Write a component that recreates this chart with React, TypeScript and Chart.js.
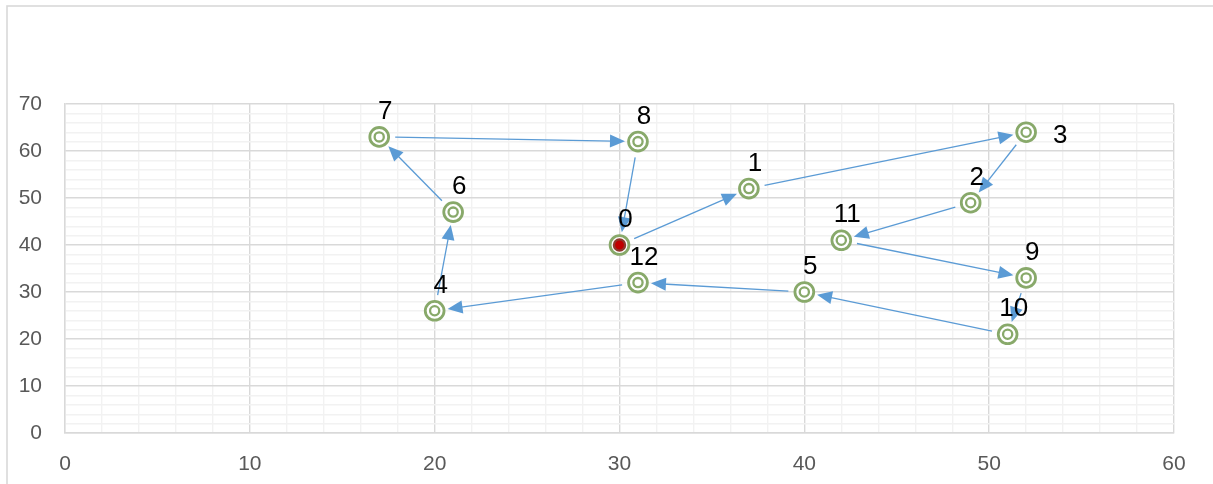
import { useEffect, useRef } from 'react';
import { Chart, registerables } from 'chart.js';

Chart.register(...registerables);

// ---- data ----
const pointLabels = ['0', '1', '2', '3', '4', '5', '6', '7', '8', '9', '10', '11', '12'];
const xValues = [30, 37, 49, 52, 20, 40, 21, 17, 31, 52, 51, 42, 31];
const yValues = [40, 52, 49, 64, 26, 30, 47, 63, 62, 33, 21, 41, 32];
// visiting order of the tour (indices into the point arrays)
const route = [0, 1, 3, 2, 11, 9, 10, 5, 12, 4, 6, 7, 8, 0];
// where each data label sits relative to its point
const labelPlacement = ['above', 'above', 'above', 'right', 'above', 'above', 'above', 'above', 'above', 'above', 'above', 'above', 'above'];
const xRange = [0, 60];
const yRange = [0, 70];
const majorStep = 10;
const minorStep = 2;

const GREEN = '#88A96A';
const ARROW = '#5B9BD5';
const FONT = '"Liberation Sans", Arial, sans-serif';

const framePlugin = {
  id: 'frame',
  beforeDraw(chart: any) {
    const { ctx, width, height } = chart;
    ctx.save();
    ctx.fillStyle = '#FFFFFF';
    ctx.fillRect(0, 0, width, height);
    ctx.strokeStyle = '#D9D9D9';
    ctx.lineWidth = 1.6;
    ctx.strokeRect(7, 6, width + 50, height + 50);
    ctx.restore();
  },
};

const arrowPlugin = {
  id: 'arrows',
  afterDatasetsDraw(chart: any) {
    const { ctx } = chart;
    const xs = chart.scales.x;
    const ys = chart.scales.y;
    const gap = 16;
    const headLen = 15;
    const headHalf = 6.5;
    ctx.save();
    ctx.strokeStyle = ARROW;
    ctx.fillStyle = ARROW;
    ctx.lineWidth = 1.3;
    for (let k = 0; k < route.length - 1; k++) {
      const a = route[k];
      const b = route[k + 1];
      const ax = xs.getPixelForValue(xValues[a]);
      const ay = ys.getPixelForValue(yValues[a]);
      const bx = xs.getPixelForValue(xValues[b]);
      const by = ys.getPixelForValue(yValues[b]);
      const dx = bx - ax;
      const dy = by - ay;
      const len = Math.hypot(dx, dy);
      const ux = dx / len;
      const uy = dy / len;
      const nx = -uy;
      const ny = ux;
      const sx = ax + ux * gap;
      const sy = ay + uy * gap;
      const tx = bx - ux * (gap - 3);
      const ty = by - uy * (gap - 3);
      ctx.beginPath();
      ctx.moveTo(sx, sy);
      ctx.lineTo(tx - ux * headLen * 0.8, ty - uy * headLen * 0.8);
      ctx.stroke();
      ctx.beginPath();
      ctx.moveTo(tx, ty);
      ctx.lineTo(tx - ux * headLen + nx * headHalf, ty - uy * headLen + ny * headHalf);
      ctx.lineTo(tx - ux * headLen - nx * headHalf, ty - uy * headLen - ny * headHalf);
      ctx.closePath();
      ctx.fill();
    }
    ctx.restore();
  },
};

const labelPlugin = {
  id: 'pointLabels',
  afterDraw(chart: any) {
    const { ctx } = chart;
    const xs = chart.scales.x;
    const ys = chart.scales.y;
    ctx.save();
    ctx.font = `26px ${FONT}`;
    ctx.fillStyle = '#000000';
    ctx.textAlign = 'center';
    ctx.textBaseline = 'middle';
    pointLabels.forEach((lab, i) => {
      const px = xs.getPixelForValue(xValues[i]);
      const py = ys.getPixelForValue(yValues[i]);
      if (labelPlacement[i] === 'right') {
        ctx.fillText(lab, px + 34, py + 4);
      } else {
        ctx.fillText(lab, px + 6, py - 25);
      }
    });
    ctx.restore();
  },
};

export default function App() {
  const canvasRef = useRef<HTMLCanvasElement | null>(null);

  useEffect(() => {
    if (!canvasRef.current) return;
    const points = xValues.map((x, i) => ({ x, y: yValues[i] }));
    const gridColor = (c: any) =>
      c.tick && Math.round(c.tick.value) % majorStep === 0 ? '#D9D9D9' : '#F2F2F2';
    const tickCb = (v: any) => (Math.round(Number(v)) % majorStep === 0 ? String(v) : '');

    const chart = new Chart(canvasRef.current, {
      type: 'scatter',
      data: {
        datasets: [
          {
            label: 'inner',
            data: points,
            pointStyle: 'circle',
            pointRadius: xValues.map((_, i) => (i === 0 ? 5.6 : 4.6)),
            pointBorderWidth: 2.3,
            pointBackgroundColor: xValues.map((_, i) => (i === 0 ? '#C00000' : '#FFFFFF')),
            pointBorderColor: xValues.map((_, i) => (i === 0 ? '#8E3A2E' : GREEN)),
            pointHoverRadius: 4.6,
            showLine: false,
          },
          {
            label: 'outer',
            data: points,
            pointStyle: 'circle',
            pointRadius: 9.4,
            pointBorderWidth: 2.8,
            pointBackgroundColor: '#FFFFFF',
            pointBorderColor: GREEN,
            pointHoverRadius: 9.4,
            showLine: false,
          },
        ],
      },
      options: {
        animation: false,
        responsive: false,
        devicePixelRatio: 1,
        events: [],
        layout: { padding: { left: 0, right: 39, top: 104, bottom: 0 } },
        plugins: {
          legend: { display: false },
          tooltip: { enabled: false },
          title: { display: false },
        },
        scales: {
          x: {
            type: 'linear',
            min: xRange[0],
            max: xRange[1],
            afterFit: (s: any) => {
              s.height = 51;
            },
            ticks: {
              stepSize: minorStep,
              autoSkip: false,
              maxRotation: 0,
              callback: tickCb,
              color: '#595959',
              padding: 19,
              font: { family: FONT, size: 21 },
            },
            grid: { color: gridColor, lineWidth: 1.4, drawTicks: false },
            border: { color: '#D9D9D9', width: 1.4 },
          },
          y: {
            type: 'linear',
            min: yRange[0],
            max: yRange[1],
            afterFit: (s: any) => {
              s.width = 65;
            },
            ticks: {
              stepSize: minorStep,
              autoSkip: false,
              callback: tickCb,
              color: '#595959',
              padding: 23,
              font: { family: FONT, size: 21 },
            },
            grid: { color: gridColor, lineWidth: 1.4, drawTicks: false },
            border: { color: '#D9D9D9', width: 1.4 },
          },
        },
      },
      plugins: [framePlugin, arrowPlugin, labelPlugin],
    } as any);

    return () => chart.destroy();
  }, []);

  return (
    <div style={{ position: 'absolute', left: 0, top: 0, width: 1213, height: 484 }}>
      <canvas ref={canvasRef} width={1213} height={484} style={{ width: 1213, height: 484, display: 'block' }} />
    </div>
  );
}
